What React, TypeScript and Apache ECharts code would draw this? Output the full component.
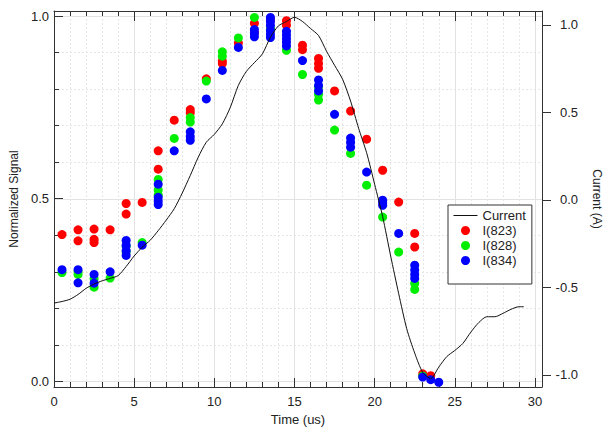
import React, { useEffect, useRef } from "react";
import * as echarts from "echarts";

// ---- tick values ----
const timeTicksMajor = [0, 5, 10, 15, 20, 25, 30];
const timeTicksMinor = [1, 2, 3, 4, 6, 7, 8, 9, 11, 12, 13, 14, 16, 17, 18, 19, 21, 22, 23, 24, 26, 27, 28, 29];
const signalTicksMajor = [0, 0.5, 1.0];
const signalTicksMinor = [0.1, 0.2, 0.3, 0.4, 0.6, 0.7, 0.8, 0.9];
const currentTicks = [-1, -0.5, 0, 0.5, 1];

// ---- Current (A) trace ----
const currentTime = [
  0, 0.5, 1, 1.5, 2, 2.5, 3, 3.5, 4, 4.5, 5, 5.5, 6, 6.5, 7, 7.5, 8, 8.5, 9, 9.5,
  10, 10.5, 11, 11.5, 12, 12.5, 13, 13.5, 14, 14.5, 15, 15.5, 16, 16.5, 17, 17.5,
  18, 18.5, 19, 19.5, 20, 20.5, 21, 21.5, 22, 22.5, 23, 23.5, 24, 24.5, 25, 25.5,
  26, 26.5, 27, 27.5, 28, 28.5, 29, 29.3,
];
const currentValues = [
  -0.589, -0.58, -0.567, -0.54, -0.505, -0.48, -0.462, -0.448, -0.432, -0.38,
  -0.32, -0.27, -0.23, -0.175, -0.115, -0.05, 0.04, 0.14, 0.245, 0.33,
  0.375, 0.435, 0.53, 0.655, 0.735, 0.785, 0.835, 0.93, 0.995, 1.02,
  1.044, 1.02, 0.98, 0.94, 0.85, 0.77, 0.69, 0.565, 0.41, 0.27,
  0.09, -0.095, -0.32, -0.535, -0.735, -0.875, -0.985, -1.02, -0.955, -0.895,
  -0.86, -0.82, -0.755, -0.7, -0.667, -0.667, -0.648, -0.625, -0.61, -0.61,
];

// ---- normalized signals [time (us), signal] ----
const i823 = [
  [0.5, 0.402], [1.5, 0.415], [1.5, 0.385], [2.5, 0.417], [2.5, 0.389], [2.5, 0.38],
  [3.5, 0.415], [4.5, 0.487], [4.5, 0.458], [5.5, 0.49], [6.5, 0.631], [6.5, 0.581],
  [7.5, 0.715], [8.5, 0.744], [8.5, 0.735], [9.5, 0.828], [10.5, 0.877], [10.5, 0.87],
  [11.5, 0.926], [12.5, 0.98], [12.5, 0.955], [13.5, 0.99], [14.5, 0.987], [14.5, 0.975],
  [15.5, 0.92], [15.5, 0.908], [16.5, 0.884], [16.5, 0.87], [16.5, 0.857], [17.5, 0.795],
  [18.5, 0.74], [19.5, 0.663], [20.5, 0.578], [21.5, 0.491], [22.5, 0.405], [22.5, 0.368],
  [23, 0.021], [23.5, 0.016],
];
const i828 = [
  [0.5, 0.298], [1.5, 0.3], [1.5, 0.293], [2.5, 0.281], [2.5, 0.258], [3.5, 0.283],
  [4.5, 0.37], [4.5, 0.355], [5.5, 0.38], [6.5, 0.553], [6.5, 0.524], [6.5, 0.51],
  [7.5, 0.665], [8.5, 0.722], [8.5, 0.71], [9.5, 0.822], [10.5, 0.902], [10.5, 0.89],
  [11.5, 0.94], [12.5, 0.996], [13.5, 0.965], [14.5, 0.906], [15.5, 0.84],
  [16.5, 0.806], [16.5, 0.785], [16.5, 0.77], [17.5, 0.688], [18.5, 0.624],
  [19.5, 0.537], [20.5, 0.45], [21.5, 0.354], [22.5, 0.268], [22.5, 0.252], [23, 0.015],
];
const i834 = [
  [0.5, 0.306], [1.5, 0.306], [1.5, 0.27], [2.5, 0.293], [2.5, 0.269], [3.5, 0.3],
  [4.5, 0.386], [4.5, 0.372], [4.5, 0.358], [4.5, 0.345], [5.5, 0.373],
  [6.5, 0.54], [6.5, 0.504], [6.5, 0.494], [6.5, 0.484], [7.5, 0.631],
  [8.5, 0.683], [8.5, 0.67], [8.5, 0.66], [9.5, 0.773], [10.5, 0.851], [11.5, 0.914],
  [12.5, 0.963], [12.5, 0.953], [12.5, 0.943], [13.5, 0.996], [13.5, 0.985], [13.5, 0.974],
  [13.5, 0.96], [13.5, 0.95], [13.5, 0.941], [14.5, 0.958], [14.5, 0.948], [14.5, 0.938],
  [14.5, 0.928], [14.5, 0.918], [15.5, 0.878], [16.5, 0.825], [16.5, 0.81], [16.5, 0.795],
  [17.5, 0.731], [18.5, 0.666], [18.5, 0.654], [18.5, 0.641], [19.5, 0.573],
  [20.5, 0.496], [20.5, 0.489], [20.5, 0.482], [21.5, 0.405], [22.5, 0.318], [22.5, 0.305],
  [22.5, 0.293], [22.5, 0.282], [23, 0.012], [23.5, 0.005], [24, -0.002],
];

const FONT = "Liberation Sans, Arial, sans-serif";
const TXT = "#222";
const AX = "#333";

export default function App() {
  const ref = useRef<HTMLDivElement>(null);

  useEffect(() => {
    if (!ref.current) return;
    const chart = echarts.init(ref.current, undefined, { renderer: "svg" });

    const hidden = {
      axisLine: { show: false, onZero: false },
      axisTick: { show: false },
      axisLabel: { show: false },
    };
    const line = (show: boolean) => ({ show, onZero: false, lineStyle: { color: AX, width: 1 } });

    const option: any = {
      animation: false,
      backgroundColor: "#fff",
      textStyle: { fontFamily: FONT },
      grid: [
        { left: 54, right: 64, top: 11, bottom: 41, outerBoundsMode: "none", containLabel: false },
        { left: 54, right: 64, top: 16, bottom: 46.5, outerBoundsMode: "none", containLabel: false },
        { left: 54, right: 71, top: 11, bottom: 41, outerBoundsMode: "none", containLabel: false },
      ],
      legend: {
        orient: "vertical",
        left: 448,
        top: 205,
        padding: [3, 6, 16, 5],
        itemWidth: 24,
        itemHeight: 9,
        itemGap: 0,
        borderColor: AX,
        borderWidth: 1,
        backgroundColor: "#fff",
        selectedMode: false,
        textStyle: { fontSize: 13, color: TXT, lineHeight: 15, fontFamily: FONT },
        data: [
          { name: "Current", itemStyle: { opacity: 0 }, lineStyle: { width: 1, color: "#111" } },
          "I(823)", "I(828)", "I(834)",
        ],
      },
      xAxis: [
        {
          gridIndex: 0, type: "value", position: "bottom", min: 0, max: 30.44,
          axisLine: line(true),
          axisTick: { show: true, inside: true, length: 9, customValues: timeTicksMajor, lineStyle: { color: AX } },
          axisLabel: { show: true, customValues: timeTicksMajor, margin: 8, fontSize: 13, color: TXT, fontFamily: FONT },
          splitLine: { show: false },
          name: "Time (us)", nameLocation: "middle", nameGap: 25,
          nameTextStyle: { fontSize: 13, color: TXT, fontFamily: FONT },
        },
        {
          gridIndex: 0, type: "value", position: "bottom", min: 0, max: 30.44,
          axisLine: line(false),
          axisTick: { show: true, inside: true, length: 5, customValues: timeTicksMinor, lineStyle: { color: AX } },
          axisLabel: { show: false },
          splitLine: { show: false },
        },
        {
          gridIndex: 0, type: "value", position: "top", min: 0, max: 30.44,
          axisLine: line(true),
          axisTick: { show: true, inside: true, length: 10, customValues: timeTicksMajor, lineStyle: { color: AX } },
          axisLabel: { show: false },
          splitLine: { show: false },
        },
        {
          gridIndex: 0, type: "value", position: "top", min: 0, max: 30.44,
          axisLine: line(false),
          axisTick: { show: true, inside: true, length: 5, customValues: timeTicksMinor, lineStyle: { color: AX } },
          axisLabel: { show: false },
          splitLine: { show: false },
        },
        { gridIndex: 1, type: "value", min: 0, max: 1, ...hidden, splitLine: { show: false } },
        {
          gridIndex: 2, type: "value", min: 0, max: 30, interval: 5, ...hidden,
          splitLine: { show: true, lineStyle: { color: "#e2e2e2", width: 1 } },
          minorTick: { show: false, splitNumber: 5 },
          minorSplitLine: { show: true, lineStyle: { color: "#e6e6e6", width: 1, type: [2, 2] } },
        },
      ],
      yAxis: [
        {
          gridIndex: 0, type: "value", position: "left", min: -0.01505, max: 1.01368,
          axisLine: line(true),
          axisTick: { show: true, inside: true, length: 9, customValues: signalTicksMajor, lineStyle: { color: AX } },
          axisLabel: {
            show: true, customValues: signalTicksMajor, margin: 5, fontSize: 13, color: TXT, fontFamily: FONT,
            formatter: (v: number) => v.toFixed(1),
          },
          splitLine: { show: false },
          name: "Normalized Signal", nameLocation: "middle", nameGap: 25,
          nameTextStyle: { fontSize: 12, color: TXT, fontFamily: FONT },
        },
        {
          gridIndex: 0, type: "value", position: "left", min: -0.01505, max: 1.01368,
          axisLine: line(false),
          axisTick: { show: true, inside: true, length: 5, customValues: signalTicksMinor, lineStyle: { color: AX } },
          axisLabel: { show: false },
          splitLine: { show: false },
        },
        {
          gridIndex: 0, type: "value", position: "right", min: -1.0686, max: 1.08,
          axisLine: line(true),
          axisTick: { show: true, inside: false, length: 9, customValues: currentTicks, lineStyle: { color: AX } },
          axisLabel: {
            show: true, customValues: currentTicks, margin: 36, align: "right", fontSize: 13, color: TXT, fontFamily: FONT,
            formatter: (v: number) => v.toFixed(1),
          },
          splitLine: { show: false },
          name: "Current (A)", nameLocation: "middle", nameGap: 49, nameRotate: -90,
          nameTextStyle: { fontSize: 12, color: TXT, fontFamily: FONT },
        },
        {
          gridIndex: 1, type: "value", min: 0, max: 1, interval: 0.5, ...hidden,
          splitLine: { show: true, lineStyle: { color: "#e2e2e2", width: 1 } },
          minorTick: { show: false, splitNumber: 5 },
          minorSplitLine: { show: true, lineStyle: { color: "#e6e6e6", width: 1, type: [2, 2] } },
        },
        { gridIndex: 2, type: "value", min: 0, max: 1, ...hidden, splitLine: { show: false } },
      ],
      series: [
        {
          name: "I(823)", type: "scatter", xAxisIndex: 0, yAxisIndex: 0,
          symbol: "circle", symbolSize: 9, itemStyle: { color: "#ff0000", opacity: 1 }, z: 2,
          data: i823,
        },
        {
          name: "I(828)", type: "scatter", xAxisIndex: 0, yAxisIndex: 0,
          symbol: "circle", symbolSize: 9, itemStyle: { color: "#00ee00", opacity: 1 }, z: 2,
          data: i828,
        },
        {
          name: "I(834)", type: "scatter", xAxisIndex: 0, yAxisIndex: 0,
          symbol: "circle", symbolSize: 9, itemStyle: { color: "#0000ff", opacity: 1 }, z: 2,
          data: i834,
        },
        {
          name: "Current", type: "line", xAxisIndex: 0, yAxisIndex: 2,
          showSymbol: false, symbol: "none", smooth: 0.25, clip: false,
          lineStyle: { color: "#111", width: 1 }, itemStyle: { color: "#111" }, z: 3,
          data: currentTime.map((t, i) => [t, currentValues[i]]),
        },
      ],
    };

    chart.setOption(option);
    return () => chart.dispose();
  }, []);

  return <div ref={ref} style={{ width: 606, height: 428, position: "absolute", left: 0, top: 0 }} />;
}
